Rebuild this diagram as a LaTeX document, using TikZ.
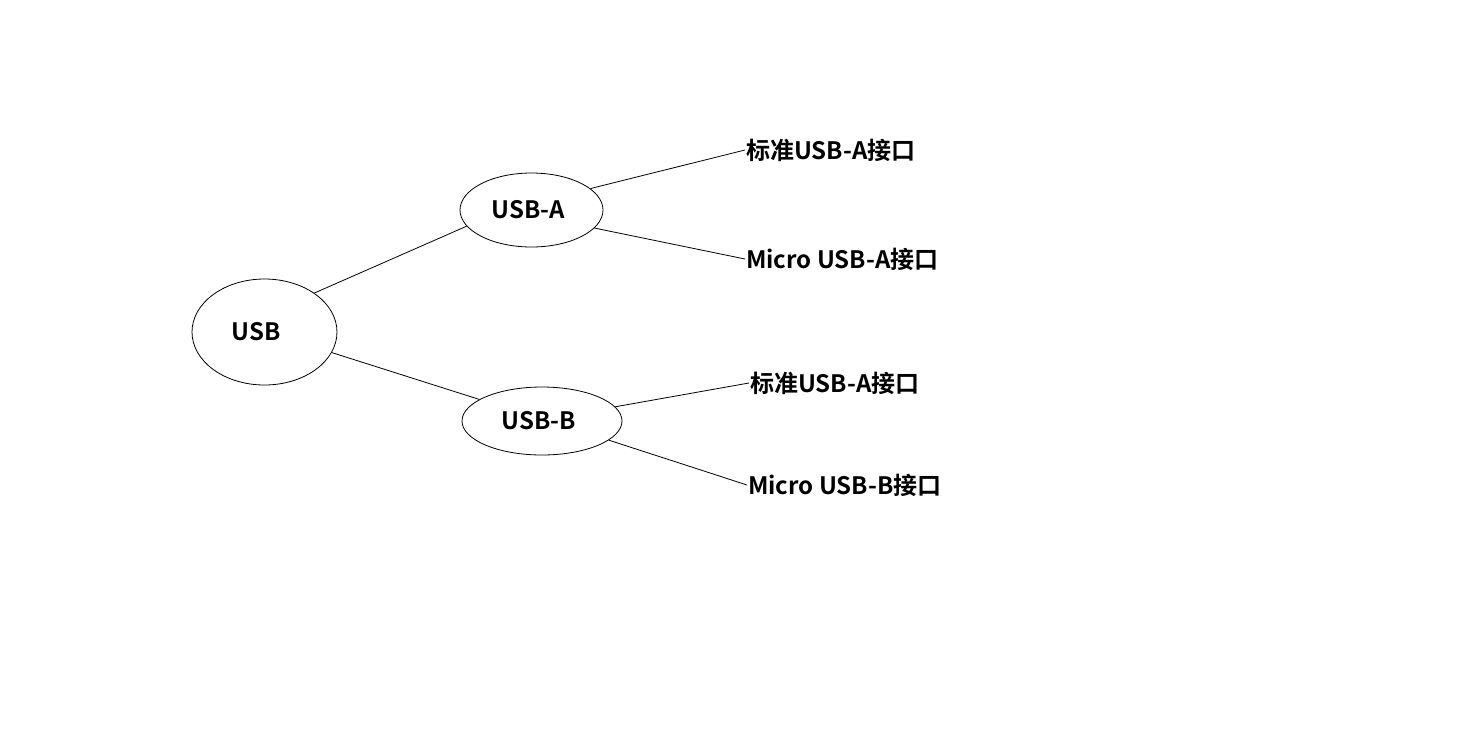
\documentclass[tikz,border=0pt]{standalone}
\usepackage{fontspec}
\setmainfont{Noto Sans CJK SC}[BoldFont={* Bold}]
\usetikzlibrary{shapes.geometric}
\tikzset{
  txt/.style={font=\fontsize{24}{28}\selectfont\bfseries},
  ell/.style={draw, ellipse, line width=0.8pt, inner sep=0pt, txt},
  lbl/.style={anchor=west, inner sep=1pt, txt},
  conn/.style={line width=0.8pt},
}
\begin{document}
\begin{tikzpicture}[x=1pt,y=-1pt]
\useasboundingbox[fill=white] (0,0) rectangle (1484,745);
\node[ell, minimum width=145pt, minimum height=106pt] (usb) at (264.5,332) {USB\kern17pt};
\node[ell, minimum width=143pt, minimum height=74pt] (usba) at (531.5,210) {USB-A\kern7pt};
\node[ell, minimum width=160pt, minimum height=68pt] (usbb) at (542,421) {USB-B\kern7pt};
\node[lbl] (a1) at (745,150) {标准USB-A接口};
\node[lbl] (a2) at (745,259) {Micro USB-A接口};
\node[lbl] (b1) at (749,383) {标准USB-A接口};
\node[lbl] (b2) at (747,485) {Micro USB-B接口};
\draw[conn] (usb.38.5) -- (usba.194.7);
\draw[conn] (usb.343) -- (usbb.161.8);
\draw[conn] (usba.20) -- (a1.west);
\draw[conn] (usba.-16.5) -- (a2.west);
\draw[conn] (usbb.11.2) -- (b1.west);
\draw[conn] (usbb.-16) -- (b2.west);
\end{tikzpicture}
\end{document}
